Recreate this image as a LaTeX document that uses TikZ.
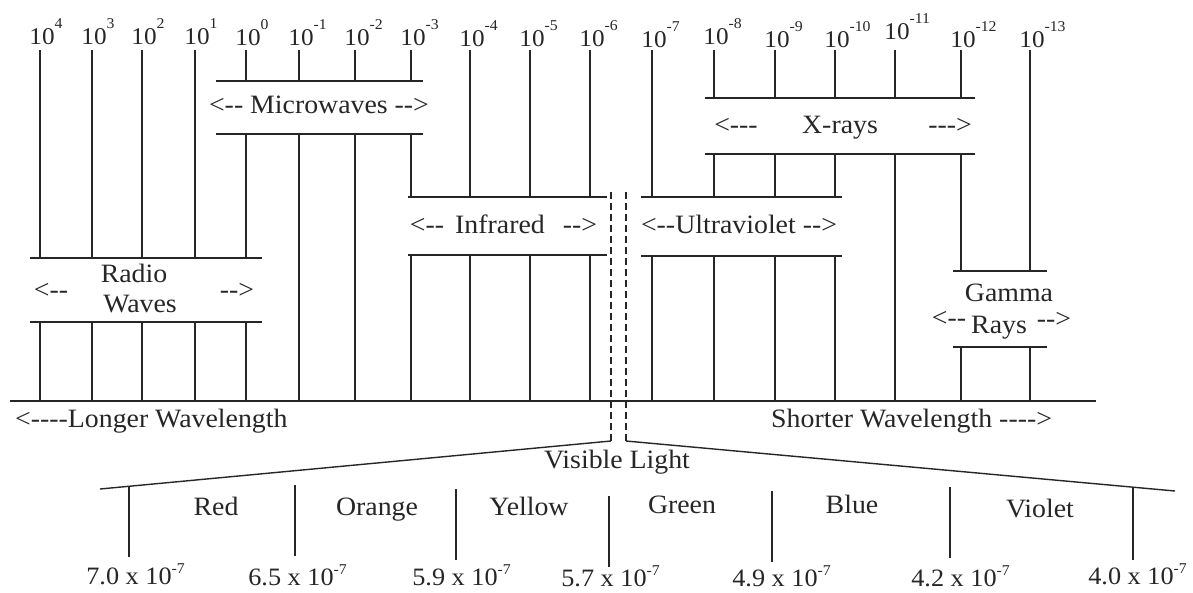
\documentclass[tikz,border=0pt]{standalone}
\usepackage{fontspec}
\newfontfamily\lblfont{Liberation Serif}[FakeStretch=1.05]
% raised exponents that take no width, so the base "10" stays centred
\newcommand\topexp[1]{\rlap{\raisebox{15.5pt}{\fontsize{15}{15}\selectfont#1}}}
\newcommand\valexp[1]{\rlap{\raisebox{11pt}{\fontsize{15}{15}\selectfont#1}}}
\begin{document}
\begin{tikzpicture}[x=1pt,y=-1pt,
  rule/.style={line width=1.6pt, black!85},
  thin rule/.style={line width=1.4pt, black!85},
  dashrule/.style={line width=1.4pt, black!85, dash pattern=on 7pt off 4pt},
  txt/.style={font=\lblfont\fontsize{26.5}{28}\selectfont, inner sep=0pt, anchor=base, text=black!85},
  pow/.style={font=\lblfont\fontsize{24}{26}\selectfont, inner sep=0pt, anchor=base, text=black!85},
  val/.style={font=\lblfont\fontsize{25}{27}\selectfont, inner sep=0pt, anchor=base, text=black!85}]

\useasboundingbox (0,0) rectangle (1193,592);

% ---- powers of ten along the top ----
\foreach \x/\e/\b [count=\i] in {40/4/44, 92/3/44, 142/2/44, 195/1/44, 246/0/45,
    299/-1/45, 355/-2/45, 411/-3/45, 470/-4/46, 530/-5/46, 590/-6/46, 652/-7/47,
    714/-8/44, 775/-9/47, 835/-10/47, 895/-11/39, 961/-12/47, 1030/-13/47}
  \node[pow] (p\i) at (\x+2,\b) {10\topexp{\e}};

% ---- vertical scale lines, broken by the band boxes ----
\foreach \x in {40,92,142,195}
  \draw[rule] (\x,50) -- (\x,258) (\x,322) -- (\x,401);
\draw[rule] (246,50) -- (246,81) (246,134) -- (246,258) (246,322) -- (246,401);
\foreach \x in {299,355}
  \draw[rule] (\x,50) -- (\x,81) (\x,134) -- (\x,401);
\draw[rule] (411,50) -- (411,81) (411,134) -- (411,197) (411,255) -- (411,401);
\foreach \x in {470,530,590,652}
  \draw[rule] (\x,50) -- (\x,197) (\x,255) -- (\x,401);
\foreach \x in {714,775,835}
  \draw[rule] (\x,50) -- (\x,98) (\x,154) -- (\x,197) (\x,255) -- (\x,401);
\draw[rule] (895,50) -- (895,98) (895,154) -- (895,401);
\draw[rule] (961,50) -- (961,98) (961,154) -- (961,271) (961,347) -- (961,401);
\draw[rule] (1030,50) -- (1030,271) (1030,347) -- (1030,401);

% ---- band boxes (top and bottom rules) ----
\draw[rule] (216,81) -- (423,81) (216,134) -- (423,134);   % microwaves
\draw[rule] (705,98) -- (975,98) (705,154) -- (975,154);   % x-rays
\draw[rule] (408,197) -- (607,197) (408,255) -- (607,255); % infrared
\draw[rule] (641,197) -- (842,197) (641,256) -- (842,256); % ultraviolet
\draw[rule] (30,258) -- (262,258) (30,322) -- (262,322);   % radio
\draw[rule] (953,271) -- (1047,271) (953,347) -- (1047,347); % gamma

% ---- main wavelength axis ----
\draw[rule] (10,401) -- (1096,401);

% ---- band labels ----
\node[txt] (mw) at (319,113) {<-- Microwaves -->};
\node[txt] (xl) at (736,133) {<---};
\node[txt] (xr) at (840,133) {X-rays};
\node[txt] (xrr) at (950,133) {--->};
\node[txt] (irl) at (427,233) {<--};
\node[txt] (ir) at (500,233) {Infrared};
\node[txt] (irr) at (580,233) {-->};
\node[txt] (uv) at (739,233) {<--Ultraviolet -->};
\node[txt] (rl) at (51,298) {<--};
\node[txt] (ra) at (134,282) {Radio};
\node[txt] (rw) at (140,312) {Waves};
\node[txt] (rr) at (237,298) {-->};
\node[txt] (ga) at (1009,301) {Gamma};
\node[txt, anchor=base west] (gr) at (971,333) {Rays};
\node[txt] (gl) at (949,326) {<--};
\node[txt] (grr) at (1054,327) {-->};
\node[txt, anchor=base west] (lw) at (15,427) {<----Longer Wavelength};
\node[txt, anchor=base west] (sw) at (771,427) {Shorter Wavelength ---->};

% ---- visible light break-out ----
\draw[dashrule] (611,192) -- (611,441);
\draw[dashrule] (626,192) -- (626,441);
\draw[thin rule] (611,441) -- (100,489);
\draw[thin rule] (626,441) -- (1175,491);
\node[txt] (vis) at (617,468) {Visible Light};

\foreach \x/\a/\b in {129/487/557, 295/485/556, 456/489/560, 609/496/567,
    772/491/562, 950/487/558, 1133/488/560}
  \draw[thin rule] (\x,\a) -- (\x,\b);

\foreach \x/\b/\c in {216/515/Red, 377/515/Orange, 529/515/Yellow,
    682/513/Green, 852/513/Blue, 1040/517/Violet}
  \node[txt] at (\x,\b) {\c};

\foreach \x/\b/\v in {129/584/7.0, 291/585/6.5, 455/585/5.9, 604/586/5.7,
    775/586/4.9, 954/586/4.2, 1131/584/4.0}
  \node[val] at (\x,\b) {\v\ x 10\valexp{-7}};
\end{tikzpicture}
\end{document}
